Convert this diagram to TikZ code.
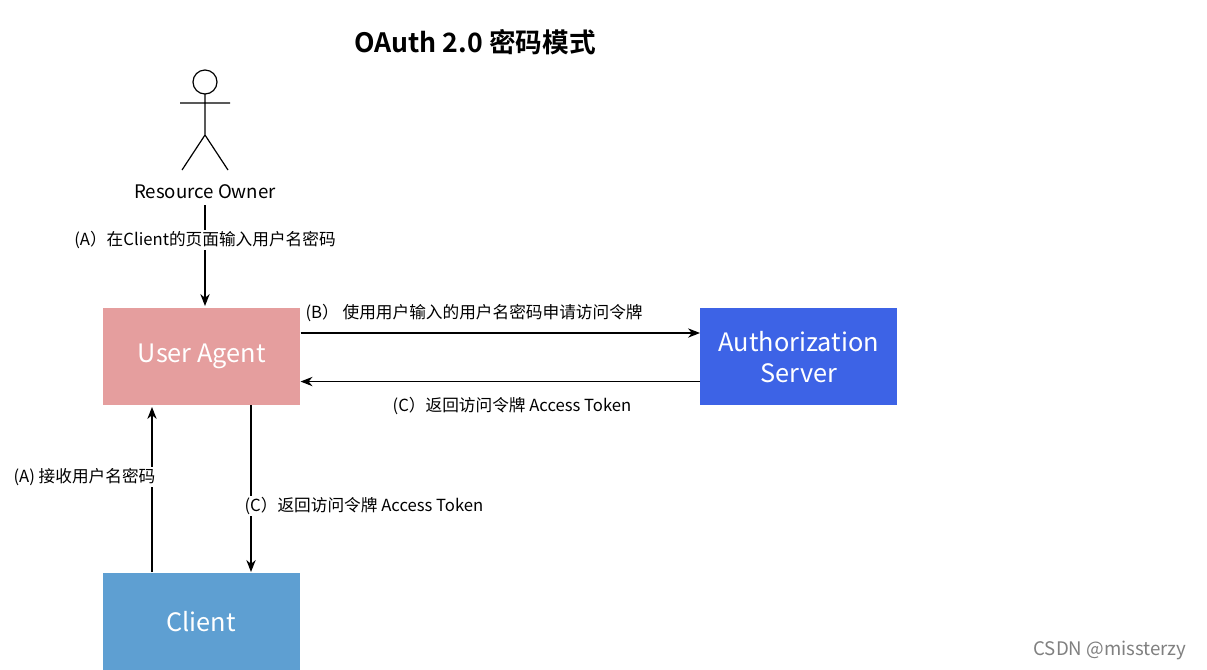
\documentclass[tikz,border=0pt]{standalone}
\usepackage{fontspec}
\setmainfont{Noto Sans CJK SC}[BoldFont={Noto Sans CJK SC Bold}]
\usetikzlibrary{arrows.meta}
\definecolor{uapink}{HTML}{E59E9E}
\definecolor{asblue}{HTML}{3D63E6}
\definecolor{clblue}{HTML}{5E9FD2}
\begin{document}
\begin{tikzpicture}[x=0.75pt,y=-0.75pt,
  boxnode/.style={minimum width=147.75pt,minimum height=72.75pt,inner sep=0pt,text=white,font=\fontsize{19}{23}\selectfont,align=center},
  lbl/.style={font=\fontsize{12.5}{15}\selectfont,inner sep=1pt},
  arr/.style={-{Stealth[length=9pt,width=7pt]},line width=0.9pt}]
\useasboundingbox (0,0) rectangle (1207,669);
\fill[white] (0,0) rectangle (1207,669);
\node[font=\bfseries\fontsize{20}{24}\selectfont] (title) at (475,42) {OAuth 2.0 密码模式};
% stick figure
\draw[line width=0.9pt] (205,82) circle (12);
\draw[line width=0.9pt] (205,94) -- (205,135) (180,103) -- (230,103) (205,135) -- (182,170) (205,135) -- (228,170);
\node[font=\fontsize{14}{17}\selectfont] (ro) at (205,192) {Resource Owner};
\node[boxnode,fill=uapink,anchor=north west] (ua) at (103,308) {User Agent};
\node[boxnode,fill=asblue,anchor=north west] (as) at (700,308) {Authorization\\Server};
\node[boxnode,fill=clblue,anchor=north west,minimum height=80pt] (cl) at (103,573) {};
\node[text=white,font=\fontsize{19}{23}\selectfont] (clt) at (201,622) {Client};
\draw[arr] (ro.south -| ua.north) ++(0,0) coordinate (rs) (205,205) -- (205,306);
\node[lbl,fill=white] (la) at (205,240) {(A）在Client的页面输入用户名密码};
\draw[arr] ([yshift=-18.75pt]ua.north east) -- ([yshift=-18.75pt]as.north west);
\node[lbl,anchor=west] (lb) at (304,313) {(B） 使用用户输入的用户名密码申请访问令牌};
\draw[arr] ([yshift=18pt]as.south west) -- ([yshift=18pt]ua.south east);
\node[lbl] (lc) at (512,406) {(C）返回访问令牌 Access Token};
\draw[arr] (251,405) -- (251,572);
\node[lbl,fill=white,anchor=west] (lc2) at (243,506) {(C）返回访问令牌 Access Token};
\draw[arr] (152,572) -- (152,407);
\node[lbl,fill=white,anchor=east] (la2) at (157,477) {(A) 接收用户名密码};
\node[text=gray,font=\fontsize{14}{17}\selectfont] (wm) at (1110,650) {CSDN @missterzy};
\end{tikzpicture}
\end{document}
